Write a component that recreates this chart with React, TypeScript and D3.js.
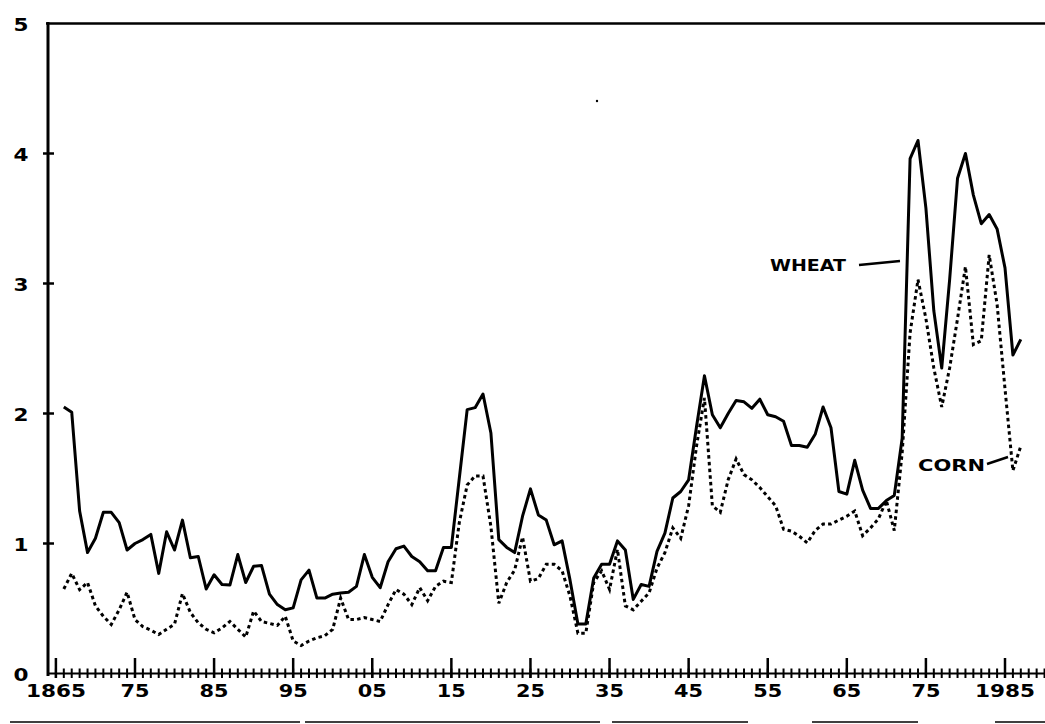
import React from "react";
import * as d3 from "d3";

const years: number[] = d3.range(1866, 1988);

const wheat: number[] = [
  2.05, 2.01, 1.25, 0.93, 1.04, 1.24, 1.24, 1.16, 0.95, 1.0,
  1.03, 1.07, 0.77, 1.09, 0.95, 1.18, 0.89, 0.9, 0.65, 0.76,
  0.685, 0.68, 0.915, 0.7, 0.825, 0.83, 0.61, 0.53, 0.49, 0.505,
  0.72, 0.795, 0.58, 0.58, 0.61, 0.62, 0.625, 0.67, 0.915, 0.74,
  0.66, 0.86, 0.96, 0.98, 0.9, 0.86, 0.79, 0.79, 0.97, 0.97,
  1.5, 2.03, 2.045, 2.15, 1.85, 1.03, 0.97, 0.93, 1.21, 1.42,
  1.22, 1.18, 0.99, 1.02, 0.72, 0.38, 0.38, 0.735, 0.84, 0.84,
  1.02, 0.95, 0.57, 0.685, 0.67, 0.94, 1.08, 1.35, 1.4, 1.49,
  1.9, 2.29, 1.99, 1.89, 2.0, 2.1, 2.09, 2.04, 2.11, 1.99,
  1.975, 1.94, 1.754, 1.754, 1.74, 1.84, 2.05, 1.89, 1.4, 1.38,
  1.64, 1.41, 1.27, 1.27, 1.33, 1.37, 1.81, 3.96, 4.1, 3.58,
  2.79, 2.35, 3.03, 3.81, 4.0, 3.68, 3.46, 3.53, 3.42, 3.12,
  2.45, 2.57,
];

const corn: number[] = [
  0.65, 0.77, 0.645, 0.7, 0.52, 0.44, 0.377, 0.49, 0.625, 0.415,
  0.36, 0.333, 0.3, 0.34, 0.38, 0.615, 0.47, 0.39, 0.34, 0.313,
  0.35, 0.4, 0.34, 0.28, 0.48, 0.4, 0.385, 0.37, 0.44, 0.25,
  0.215, 0.25, 0.275, 0.29, 0.34, 0.58, 0.415, 0.415, 0.43, 0.415,
  0.4, 0.53, 0.646, 0.61, 0.53, 0.66, 0.56, 0.67, 0.71, 0.7,
  1.16, 1.45, 1.52, 1.52, 1.13, 0.54, 0.7, 0.795, 1.05, 0.71,
  0.73, 0.84, 0.84, 0.79, 0.595, 0.31, 0.31, 0.7, 0.79, 0.646,
  0.954, 0.52, 0.49, 0.556, 0.62, 0.81, 0.93, 1.12, 1.04, 1.29,
  1.75, 2.12, 1.29, 1.24, 1.49, 1.65, 1.53, 1.49, 1.43, 1.36,
  1.29, 1.11, 1.095, 1.056, 1.005, 1.1, 1.15, 1.15, 1.18, 1.21,
  1.25, 1.06, 1.12, 1.19, 1.33, 1.1, 1.7, 2.62, 3.03, 2.73,
  2.35, 2.05, 2.35, 2.73, 3.13, 2.53, 2.56, 3.22, 2.84, 2.19,
  1.56, 1.75,
];

const xTickYears: number[] = [1865, 1875, 1885, 1895, 1905, 1915, 1925, 1935, 1945, 1955, 1965, 1975, 1985];
const xTickLabels: string[] = ["1865", "75", "85", "95", "05", "15", "25", "35", "45", "55", "65", "75", "1985"];
const yTicks: number[] = [0, 1, 2, 3, 4, 5];

const W = 1045;
const H = 724;

export default function App() {
  const x = d3.scaleLinear().domain([1865, 1985]).range([55.9, 1005]);
  const y = d3.scaleLinear().domain([0, 5]).range([673.5, 23.5]);

  const line = d3
    .line<number>()
    .x((_, i) => x(years[i]))
    .y((d) => y(d));

  const minorYears = d3.range(1865, 1991);
  const font = "'DejaVu Sans', Verdana, sans-serif";

  const bottomSegs: [number, number][] = [
    [10, 300], [305, 600], [612, 748], [812, 918], [995, 1045],
  ];

  return (
    <svg
      width={W}
      height={H}
      style={{ position: "absolute", left: 0, top: 0, background: "#fff" }}
    >
      <rect x={0} y={0} width={W} height={H} fill="#fff" />
      {/* frame */}
      <line x1={46} y1={23.5} x2={W} y2={23.5} stroke="#000" strokeWidth={2.5} />
      <line x1={48} y1={22} x2={48} y2={676} stroke="#000" strokeWidth={3} />
      <line x1={48} y1={673.5} x2={W} y2={673.5} stroke="#000" strokeWidth={2.2} />

      {/* y ticks */}
      {yTicks.slice(1, 5).map((t) => (
        <line key={"yt" + t} x1={43} x2={54} y1={y(t)} y2={y(t)} stroke="#000" strokeWidth={2.5} />
      ))}
      {yTicks.map((t) => (
        <text
          key={"yl" + t}
          x={21}
          y={y(t) + 7}
          textAnchor="middle"
          fontFamily={font}
          fontWeight="bold"
          fontSize={18.5}
          textLength={15}
          lengthAdjust="spacingAndGlyphs"
        >
          {String(t)}
        </text>
      ))}

      {/* x minor ticks */}
      {minorYears.map((yr) => (
        <line
          key={"mt" + yr}
          x1={x(yr)}
          x2={x(yr)}
          y1={668.5}
          y2={678}
          stroke="#000"
          strokeWidth={2}
        />
      ))}
      {xTickYears.map((yr) => (
        <line
          key={"Mt" + yr}
          x1={x(yr)}
          x2={x(yr)}
          y1={658}
          y2={678}
          stroke="#000"
          strokeWidth={2.5}
        />
      ))}
      {xTickYears.map((yr, i) => (
        <text
          key={"xl" + yr + i}
          x={x(yr)}
          y={697}
          textAnchor="middle"
          fontFamily={font}
          fontWeight="bold"
          fontSize={18.5}
          textLength={xTickLabels[i].length === 4 ? 60 : 29}
          lengthAdjust="spacingAndGlyphs"
        >
          {xTickLabels[i]}
        </text>
      ))}

      {/* series */}
      <path d={line(corn) || ""} fill="none" stroke="#000" strokeWidth={3} strokeDasharray="3.5 3.2" />
      <path d={line(wheat) || ""} fill="none" stroke="#000" strokeWidth={3} strokeLinejoin="round" />

      {/* labels */}
      <text
        x={770}
        y={271}
        fontFamily={font}
        fontWeight="bold"
        fontSize={16}
        textLength={76}
        lengthAdjust="spacingAndGlyphs"
      >
        WHEAT
      </text>
      <line x1={859} y1={265} x2={900} y2={261} stroke="#000" strokeWidth={2.5} />
      <text
        x={918}
        y={471}
        fontFamily={font}
        fontWeight="bold"
        fontSize={16}
        textLength={67}
        lengthAdjust="spacingAndGlyphs"
      >
        CORN
      </text>
      <line x1={987} y1={464} x2={1008} y2={457} stroke="#000" strokeWidth={2.5} />

      {/* scan artifacts */}
      <circle cx={597} cy={101} r={1.2} fill="#000" />
      {bottomSegs.map(([a, b], i) => (
        <line key={"bs" + i} x1={a} x2={b} y1={722} y2={722} stroke="#000" strokeWidth={1.6} />
      ))}
    </svg>
  );
}
